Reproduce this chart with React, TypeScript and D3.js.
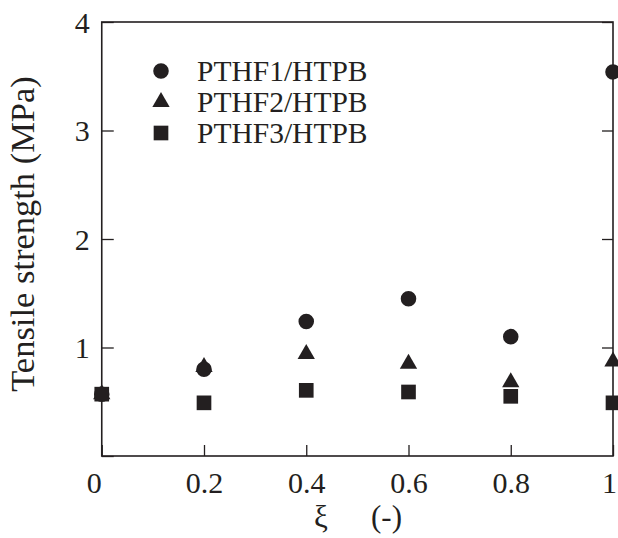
import { useRef, useEffect } from 'react';
import * as d3 from 'd3';

// composition ratio xi and tensile strength (MPa) for each blend
const xi = [0, 0.2, 0.4, 0.6, 0.8, 1];
const pthf1 = [0.57, 0.8, 1.24, 1.45, 1.1, 3.54];
const pthf2 = [0.57, 0.82, 0.94, 0.85, 0.68, 0.87];
const pthf3 = [0.57, 0.49, 0.605, 0.59, 0.55, 0.49];
const seriesNames = ['PTHF1/HTPB', 'PTHF2/HTPB', 'PTHF3/HTPB'];
const xTicks = [0, 0.2, 0.4, 0.6, 0.8, 1];
const xTickLabels = ['0', '0.2', '0.4', '0.6', '0.8', '1'];
const yTicks = [1, 2, 3, 4];

export default function App() {
  const svgRef = useRef<SVGSVGElement>(null);

  useEffect(() => {
    const svg = d3.select(svgRef.current);
    svg.selectAll('*').remove();

    const width = 618;
    const height = 538;
    const left = 101.75, right = 613, top = 22, bottom = 456;
    const ink = '#231f20';
    const font = 'Liberation Serif';

    const x = d3.scaleLinear().domain([0, 1]).range([left, right]);
    const y = d3.scaleLinear().domain([0, 4]).range([bottom, top]);

    svg.attr('width', width).attr('height', height);

    const minor = d3.range(1, 40).map(d => d / 10).filter(d => Math.abs(d - Math.round(d)) > 1e-6);

    // left axis: minor + major ticks pointing inward
    const gl = svg.append('g').attr('transform', `translate(${left},0)`);
    gl.call(d3.axisLeft(y).tickValues(minor).tickSize(-7).tickFormat(() => ''));
    gl.call(d3.axisLeft(y).tickValues([0, ...yTicks]).tickSize(-12).tickPadding(12).tickFormat(d => d === 0 ? '' : d3.format('d')(d as number)));

    // right axis mirrored
    const gr = svg.append('g').attr('transform', `translate(${right},0)`);
    gr.call(d3.axisRight(y).tickValues(minor).tickSize(-6).tickFormat(() => ''));
    gr.call(d3.axisRight(y).tickValues(yTicks).tickSize(-11).tickFormat(() => ''));

    // bottom axis
    const gb = svg.append('g').attr('transform', `translate(0,${bottom})`);
    gb.call(d3.axisBottom(x).tickValues(xTicks).tickSize(-11).tickPadding(14).tickFormat((d, i) => xTickLabels[i]));

    svg.selectAll('.domain').remove();
    svg.selectAll('.tick line').attr('stroke', ink).attr('stroke-width', 1.3);
    svg.selectAll('.tick text').attr('fill', ink).style('font-family', font).attr('font-size', 30);
    gl.selectAll('.tick text').attr('dy', '0.34em');
    gb.selectAll('.tick text').attr('dy', '0.75em')
      .attr('dx', (d, i) => (i === 0 ? -8 : i === xTicks.length - 1 ? -4 : 0));

    // frame
    svg.append('rect')
      .attr('x', left).attr('y', top)
      .attr('width', right - left).attr('height', bottom - top)
      .attr('fill', 'none').attr('stroke', ink).attr('stroke-width', 1.6);

    const symbols = [d3.symbolCircle, d3.symbolTriangle, d3.symbolSquare];
    const sizes = [190, 130, 215];
    const series = [pthf1, pthf2, pthf3];

    series.forEach((vals, s) => {
      const sym = d3.symbol().type(symbols[s]).size(sizes[s]);
      svg.append('g').selectAll('path')
        .data(vals)
        .enter()
        .append('path')
        .attr('d', sym)
        .attr('transform', (d, i) => `translate(${x(xi[i])},${y(d)})`)
        .attr('fill', ink);
    });

    // legend
    const lg = svg.append('g').attr('transform', 'translate(161,71)');
    seriesNames.forEach((name, s) => {
      const row = lg.append('g').attr('transform', `translate(0,${s * 31})`);
      row.append('path').attr('d', d3.symbol().type(symbols[s]).size(sizes[s])).attr('fill', ink);
      row.append('text')
        .attr('x', 36).attr('y', 10)
        .style('font-family', font).attr('font-size', 29.5).attr('fill', ink)
        .text(name);
    });

    // axis titles
    svg.append('text')
      .attr('transform', `translate(34,${(75 + 393) / 2}) rotate(-90)`)
      .attr('text-anchor', 'middle')
      .style('font-family', font).attr('font-size', 34.5).attr('fill', ink)
      .text('Tensile strength (MPa)');

    svg.append('text')
      .attr('x', 314).attr('y', 527)
      .style('font-family', font).attr('font-size', 31).attr('fill', ink)
      .text('ξ');
    svg.append('text')
      .attr('x', 371).attr('y', 527)
      .style('font-family', font).attr('font-size', 31).attr('fill', ink)
      .text('(-)');
  }, []);

  return (
    <div style={{ position: 'absolute', left: 0, top: 0 }}>
      <svg ref={svgRef} style={{ display: 'block' }} />
    </div>
  );
}
